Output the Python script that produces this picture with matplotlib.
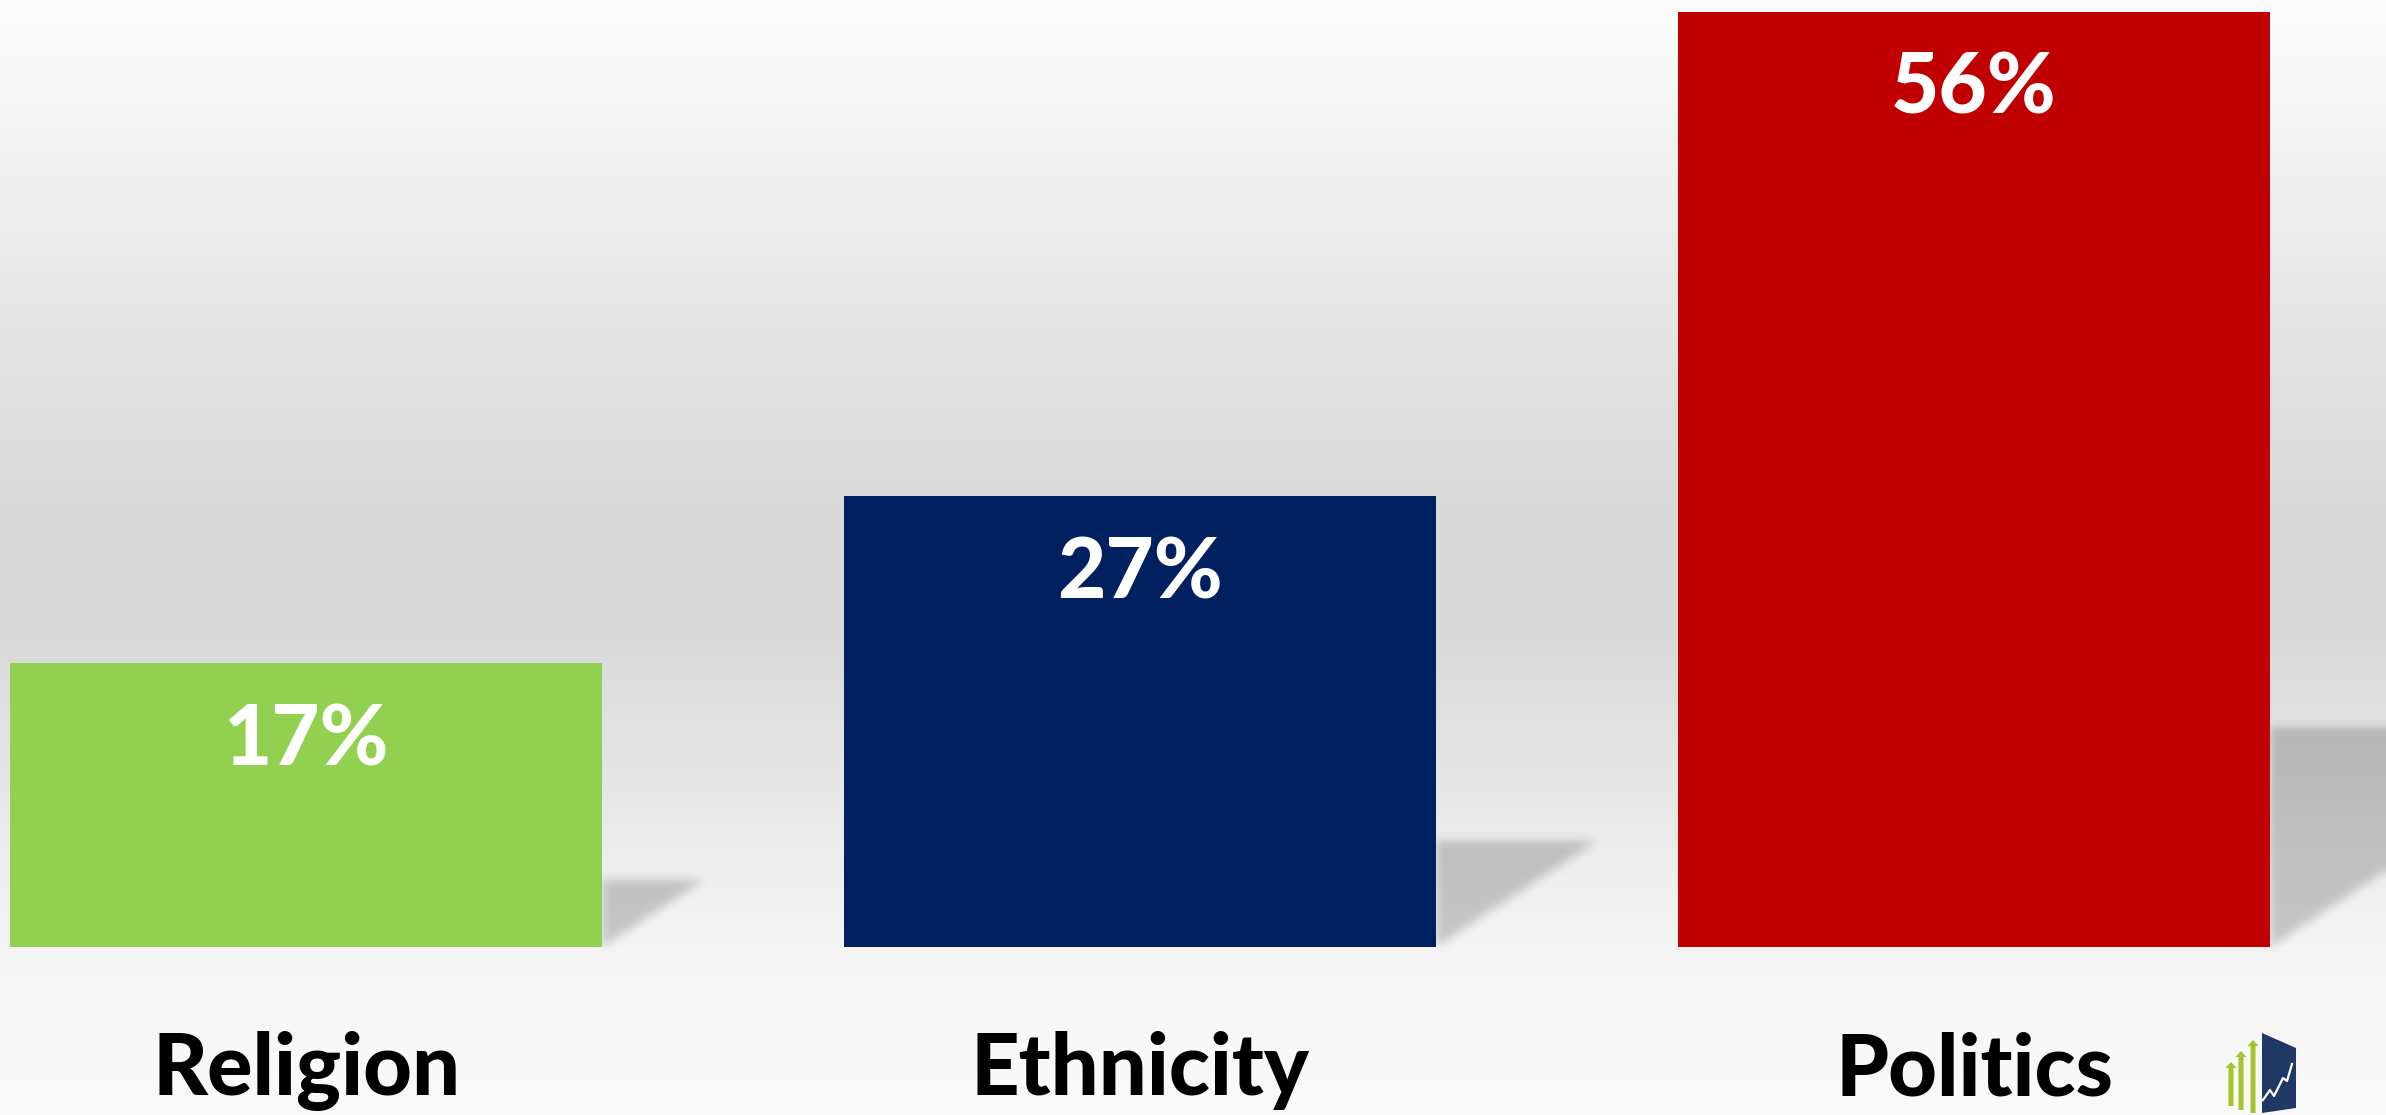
import numpy as np
import matplotlib
matplotlib.use("Agg")
import matplotlib.pyplot as plt
from matplotlib.patches import Polygon

categories = ["Religion", "Ethnicity", "Politics"]
values = [17, 27, 56]
labels = ["17%", "27%", "56%"]
colors = ["#92d050", "#002060", "#c00000"]

W, H, DPI = 2386, 1115, 100
fig = plt.figure(figsize=(W / DPI, H / DPI), dpi=DPI)

# background gradient (figure-level)
bg = fig.add_axes([0, 0, 1, 1], zorder=0)
ys = np.arange(H)
stops_y = [0, 140, 285, 420, 520, 640, 780, 910, 1000, 1115]
stops_g = [253, 243, 232, 222, 217, 218, 230, 242, 247, 250]
g = np.interp(ys, stops_y, stops_g) / 255.0
grad = np.repeat(g[:, None], 4, axis=1)
bg.imshow(grad[:, :, None] * np.ones(3), aspect="auto", extent=[0, 1, 0, 1])
bg.set_xlim(0, 1)
bg.set_ylim(0, 1)
bg.axis("off")

ax = fig.add_axes([0, 0, 1, 1], zorder=1)
ax.patch.set_alpha(0)
x = np.arange(len(categories))
width = 0.71
scale = 16.7  # pixels per percentage point
ax.set_xlim(-0.367, 2.494)
ax.set_ylim(-168 / scale, 947 / scale)
ax.axis("off")

# soft floor shadows to the right of each bar (rasterised + blurred)
gx, gy = np.meshgrid(np.arange(W) + 0.5, np.arange(H) + 0.5)
mask = np.zeros((H, W))
for xi, v in zip(x, values):
    xr = xi + width / 2
    top = 0.235 * v
    reach = 0.00713 * v
    (x0, y0), (x1, y1), (x2, y2) = ax.transData.transform(
        [(xr, 0), (xr, top), (xr + reach, top)])
    inside = (gx >= x0) & (gy <= y1) & (
        (gx - x0) * (y2 - y0) - (gy - y0) * (x2 - x0) <= 0)
    mask[inside] = 1.0

def box_blur(a, r, axis):
    pad = [(0, 0), (0, 0)]
    pad[axis] = (r + 1, r)
    c = np.cumsum(np.pad(a, pad, mode="edge"), axis=axis)
    n = a.shape[axis]
    hi = np.take(c, np.arange(2 * r + 1, 2 * r + 1 + n), axis=axis)
    lo = np.take(c, np.arange(0, n), axis=axis)
    return (hi - lo) / (2 * r + 1)

for _ in range(2):
    mask = box_blur(box_blur(mask, 5, 0), 5, 1)
shadow = np.zeros((H, W, 4))
shadow[..., 3] = mask * 0.19
bg.imshow(shadow, origin="lower", aspect="auto", extent=[0, 1, 0, 1], zorder=2)

ax.bar(x, values, width=width, color=colors, zorder=3)

fam = ["Lato", "DejaVu Sans"]
for xi, v, lab in zip(x, values, labels):
    ax.annotate(lab, (xi, v), xytext=(0, -102 * 0.72), textcoords="offset points",
                ha="center", va="baseline", color="white", fontsize=60,
                fontweight=900, family=fam, zorder=4)

for xi, c in zip(x, categories):
    ax.text(xi, -(1095 - 947) / scale, c, ha="center", va="baseline", color="black",
            fontsize=61, fontweight=900, family=fam, zorder=4)

# small logo in the bottom-right corner
def px(pts):
    return [(a / W, 1 - b / H) for a, b in pts]

lg = fig.add_axes([0, 0, 1, 1], zorder=5)
lg.set_xlim(0, 1)
lg.set_ylim(0, 1)
lg.axis("off")
lg.add_patch(Polygon(px([(2262, 1033), (2296, 1048), (2296, 1108), (2262, 1113)]),
                     facecolor="#1f3864", edgecolor="none"))
for ax_x, top, bot in [(2231, 1062, 1106), (2241, 1051, 1110), (2253, 1040, 1113)]:
    lg.add_patch(Polygon(px([(ax_x - 2.5, bot), (ax_x - 2.5, top + 6), (ax_x - 5.5, top + 6),
                             (ax_x, top), (ax_x + 5.5, top + 6), (ax_x + 2.5, top + 6),
                             (ax_x + 2.5, bot)]),
                         facecolor="#a4c62a", edgecolor="none"))
zz = px([(2263, 1100), (2270, 1090), (2274, 1096), (2283, 1078), (2287, 1081), (2292, 1064)])
lg.plot([p[0] for p in zz], [p[1] for p in zz], color="white", lw=1.6)

fig.savefig("out.png", dpi=DPI)
